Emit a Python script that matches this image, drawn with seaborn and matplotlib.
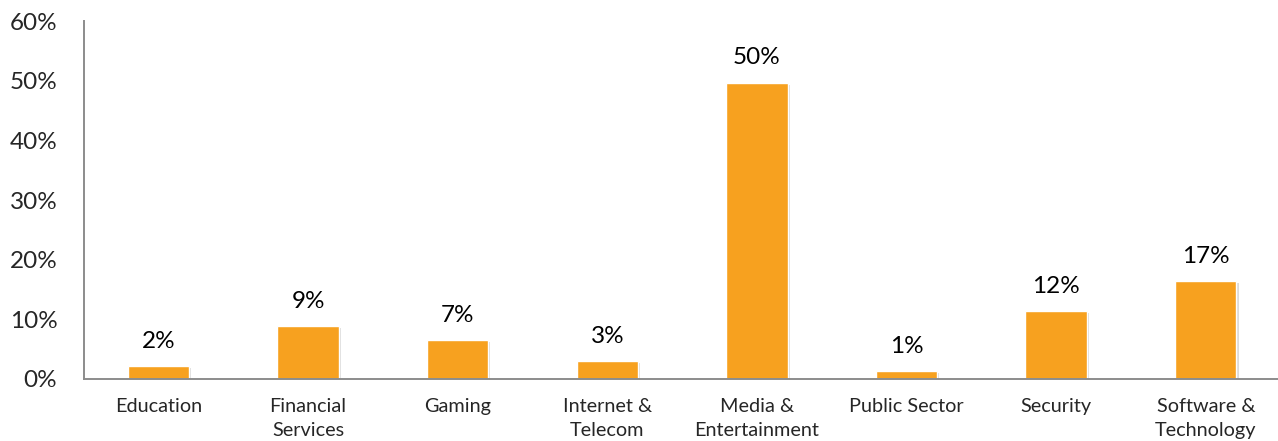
import matplotlib
matplotlib.use("Agg")
import matplotlib.pyplot as plt
import matplotlib.patheffects as pe
import seaborn as sns
import pandas as pd

categories = ["Education", "Financial\nServices", "Gaming", "Internet &\nTelecom",
              "Media &\nEntertainment", "Public Sector", "Security", "Software &\nTechnology"]
values = [2.2, 8.9, 6.5, 3.0, 49.7, 1.3, 11.4, 16.4]
labels = ["2%", "9%", "7%", "3%", "50%", "1%", "12%", "17%"]
yticks = [0, 10, 20, 30, 40, 50, 60]
ytick_labels = ["0%", "10%", "20%", "30%", "40%", "50%", "60%"]

sns.set_style("white")
plt.rcParams['font.family'] = ['Lato', 'DejaVu Sans']

df = pd.DataFrame({"cat": categories, "val": values})

fig = plt.figure(figsize=(12.78, 4.41), dpi=100)
ax = fig.add_axes([0.0655, 0.1406, 0.9365, 0.8114])

sns.barplot(data=df, x="cat", y="val", color="#F7A11F", saturation=1, width=0.41, ax=ax)

for p in ax.patches:
    p.set_path_effects([pe.SimplePatchShadow(offset=(1.5, -1.5), shadow_rgbFace="#999999", alpha=0.35), pe.Normal()])

for p, lab in zip(ax.patches, labels):
    ax.text(p.get_x() + p.get_width() / 2, p.get_height() + 2.4, lab,
            ha="center", va="bottom", fontsize=17.5, color="#000000")

ax.set_ylim(0, 60)
ax.set_xlim(-0.5, len(categories) - 0.5)
ax.set_yticks(yticks)
ax.set_yticklabels(ytick_labels, fontsize=17.5)
ax.set_xticks(range(len(categories)))
ax.set_xticklabels(categories, fontsize=14.3, linespacing=1.5)
ax.set_xlabel("")
ax.set_ylabel("")

# tick marks at category boundaries
ax.set_xticks([i - 0.5 for i in range(len(categories) + 1)], minor=True)
ax.tick_params(axis="x", which="major", length=0, pad=14)
ax.tick_params(axis="x", which="minor", length=6, width=1.2, color="#8c8c8c", direction="out")
ax.tick_params(axis="y", length=6, width=1.2, color="#8c8c8c", direction="out", pad=13)

for s in ["top", "right"]:
    ax.spines[s].set_visible(False)
for s in ["left", "bottom"]:
    ax.spines[s].set_color("#8c8c8c")
    ax.spines[s].set_linewidth(1.4)

fig.savefig("out.png", dpi=100)
